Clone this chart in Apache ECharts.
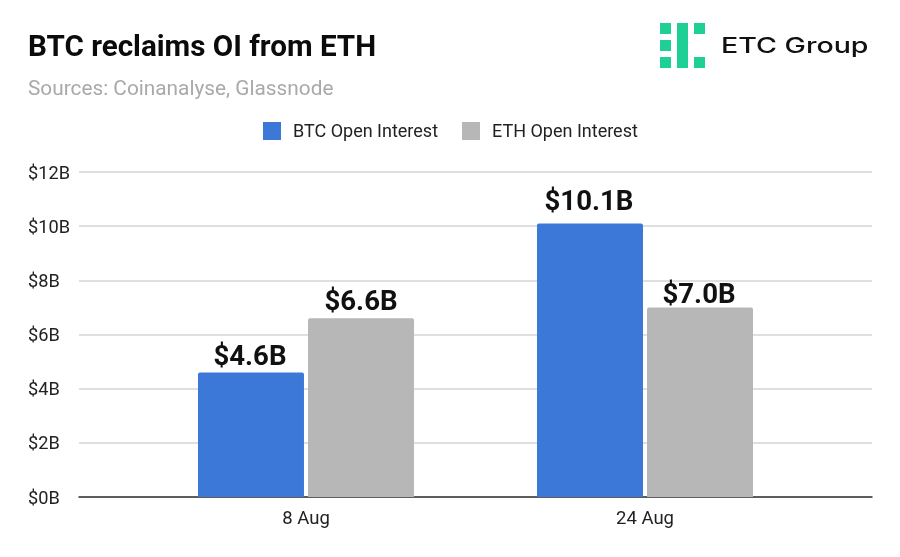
<!DOCTYPE html>
<html>
<head>
<meta charset="utf-8">
<script src="https://cdn.jsdelivr.net/npm/echarts@6/dist/echarts.min.js"></script>
<style>
html, body { margin: 0; padding: 0; background: #fff; }
#main { width: 900px; height: 557px; }
</style>
</head>
<body>
<div id="main"></div>
<script>
var categories = ['8 Aug', '24 Aug'];
var btcValues = [4.6, 10.1];
var ethValues = [6.6, 7.0];
var yTicks = [0, 2, 4, 6, 8, 10, 12];
var seriesNames = ['BTC Open Interest', 'ETH Open Interest'];

var FONT = 'Roboto';
var GREEN = '#1fd096';

function money(v) {
    return '$' + v.toFixed(1) + 'B';
}

function logoRect(x, y, w, h) {
    return { type: 'rect', shape: { x: x, y: y, width: w, height: h }, style: { fill: GREEN } };
}

// the value labels in the reference were nudged by hand, so each one gets its own offset
function barSeries(name, values, color, labelOffsets) {
    return {
        name: name,
        type: 'bar',
        xAxisIndex: 1,
        yAxisIndex: 1,
        data: values.map(function (v, i) {
            return { value: v, label: { offset: labelOffsets[i] } };
        }),
        barWidth: 106,
        barGap: '3.8%',
        itemStyle: { color: color, borderRadius: [2, 2, 0, 0] },
        label: {
            show: true,
            position: 'top',
            distance: 3,
            formatter: function (p) { return money(p.value); },
            fontFamily: FONT,
            fontWeight: 'bold',
            fontSize: 27.6,
            color: '#111'
        }
    };
}

var myChart = echarts.init(document.getElementById('main'), null, { renderer: 'canvas' });

var options = {
    backgroundColor: '#fff',
    animation: false,
    title: [
        {
            text: 'BTC reclaims OI from ETH',
            left: 28,
            top: 34,
            padding: 0,
            textStyle: { fontFamily: FONT, fontWeight: 'bold', fontSize: 29.6, color: '#0b0b0b' }
        },
        {
            text: 'Sources: Coinanalyse, Glassnode',
            left: 28,
            top: 79,
            padding: 0,
            textStyle: { fontFamily: FONT, fontWeight: 'normal', fontSize: 20.8, color: '#a9a9a9' }
        }
    ],
    legend: {
        data: seriesNames,
        icon: 'rect',
        top: 122,
        left: 263,
        padding: 0,
        itemWidth: 18,
        itemHeight: 18,
        itemGap: 24,
        formatter: '{t|{name}}',
        textStyle: {
            fontFamily: FONT,
            fontSize: 18,
            color: '#222',
            rich: { t: { fontFamily: FONT, fontSize: 18, color: '#222', padding: [2, 0, 0, 7] } }
        }
    },
    // first grid: full width gridlines and labels, second grid: the narrower bar area
    grid: [
        { left: 79, right: 28, top: 172, height: 325 },
        { left: 136.5, right: 85.5, top: 172, height: 325 }
    ],
    xAxis: [
        {
            type: 'category',
            gridIndex: 0,
            data: [''],
            axisTick: { show: false },
            axisLabel: { show: false },
            axisLine: { show: true, lineStyle: { color: '#333', width: 1.5 } }
        },
        {
            type: 'category',
            gridIndex: 1,
            data: categories,
            axisTick: { show: false },
            axisLine: { show: false },
            axisLabel: { fontFamily: FONT, fontSize: 18.5, color: '#222', margin: 13 }
        }
    ],
    yAxis: [
        {
            type: 'value',
            gridIndex: 0,
            min: yTicks[0],
            max: yTicks[yTicks.length - 1],
            interval: 2,
            axisLine: { show: false },
            axisTick: { show: false },
            axisLabel: {
                align: 'left',
                verticalAlign: 'top',
                margin: 51,
                fontFamily: FONT,
                fontSize: 18.2,
                color: '#222',
                padding: [-7, 0, 0, 0],
                formatter: function (v) { return '$' + v + 'B'; }
            },
            splitLine: { show: true, lineStyle: { color: '#d4d4d4', width: 1.5 } }
        },
        {
            type: 'value',
            gridIndex: 1,
            min: yTicks[0],
            max: yTicks[yTicks.length - 1],
            interval: 2,
            show: false
        }
    ],
    series: [
        barSeries(seriesNames[0], btcValues, '#3c78d8', [[-1, 3], [-1, -3]]),
        barSeries(seriesNames[1], ethValues, '#b7b7b7', [[0, 2], [-1, 6]])
    ],
    graphic: [
        logoRect(660, 23, 11, 11),
        logoRect(660, 40, 11, 11),
        logoRect(660, 57, 11, 11),
        logoRect(677, 23, 11, 45),
        logoRect(694, 23, 11, 11),
        logoRect(694, 57, 11, 11),
        {
            type: 'text',
            x: 721,
            y: 47,
            scaleX: 1.36,
            style: {
                text: 'ETC Group',
                x: 0,
                y: 0,
                verticalAlign: 'middle',
                fontFamily: 'Inter',
                fontWeight: 500,
                fontSize: 21,
                fill: '#111'
            }
        }
    ]
};
myChart.setOption(options);
</script>
</body>
</html>
